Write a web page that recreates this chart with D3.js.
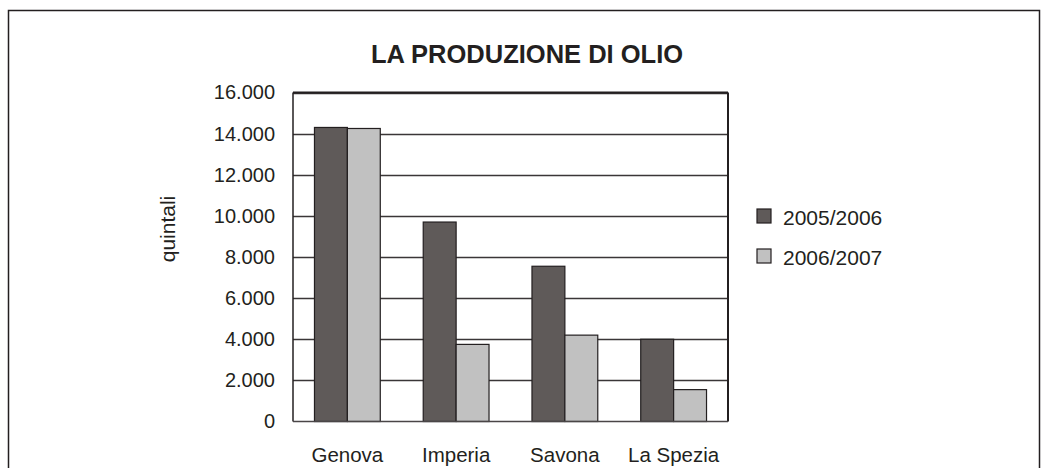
<!DOCTYPE html>
<html>
<head>
<meta charset="utf-8">
<script src="https://cdn.jsdelivr.net/npm/d3@7"></script>
<style>
  html, body { margin: 0; padding: 0; background: #fff; }
  svg text { font-family: "Liberation Sans", Arial, sans-serif; fill: #231f20; }
</style>
</head>
<body>
<svg id="chart" width="1047" height="468"></svg>
<script>
const categories = ["Genova", "Imperia", "Savona", "La Spezia"];
const seriesNames = ["2005/2006", "2006/2007"];
const values2005 = [14300, 9700, 7550, 4000];
const values2006 = [14250, 3750, 4200, 1550];
const yTicks = [0, 2000, 4000, 6000, 8000, 10000, 12000, 14000, 16000];
const title = "LA PRODUZIONE DI OLIO";
const yTitle = "quintali";
const colors = ["#5f5a59", "#c1c1c1"];

(function () {
const svg = d3.select("#chart");

// outer frame
svg.append("rect").attr("x", 8.5).attr("y", 10.5).attr("width", 1031).attr("height", 480)
  .attr("fill", "none").attr("stroke", "#231f20").attr("stroke-width", 1.5);

const pL = 293, pR = 728, pT = 92.5, pB = 421.5;

const y = d3.scaleLinear().domain([0, 16000]).range([pB, pT]);
const x0 = d3.scaleBand().domain(categories).range([pL, pR]).paddingInner(0).paddingOuter(0);
const groupW = x0.bandwidth() * 0.605;
const x1 = d3.scaleBand().domain(seriesNames).range([0, groupW]);

// gridlines
svg.append("g").selectAll("line").data(yTicks.filter(d => d > 0)).join("line")
  .attr("x1", pL).attr("x2", pR)
  .attr("y1", d => Math.round(y(d)) + 0.5).attr("y2", d => Math.round(y(d)) + 0.5)
  .attr("stroke", "#3a3637").attr("stroke-width", 1.3);

// plot border
svg.append("line").attr("x1", pL).attr("x2", pR).attr("y1", pT).attr("y2", pT)
  .attr("stroke", "#231f20").attr("stroke-width", 2);
svg.append("line").attr("x1", pL).attr("x2", pL).attr("y1", pT).attr("y2", pB)
  .attr("stroke", "#231f20").attr("stroke-width", 1.5);
svg.append("line").attr("x1", pR).attr("x2", pR).attr("y1", pT).attr("y2", pB)
  .attr("stroke", "#231f20").attr("stroke-width", 2);

// y axis labels via d3 axis
const yAxis = d3.axisLeft(y).tickValues(yTicks).tickSize(0).tickPadding(0)
  .tickFormat(d => d3.format(",")(d).replace(/,/g, "."));
const yg = svg.append("g").attr("transform", `translate(${275},0)`).call(yAxis);
yg.select(".domain").remove();
yg.selectAll("text").attr("font-size", 20).attr("font-family", "Liberation Sans, Arial, sans-serif").attr("fill", "#231f20");

// bars
const data = categories.map((c, i) => ({ cat: c, vals: [values2005[i], values2006[i]] }));
const groups = svg.append("g").selectAll("g").data(data).join("g")
  .attr("transform", d => `translate(${x0(d.cat) + (x0.bandwidth() - groupW) / 2},0)`);
groups.selectAll("rect").data(d => d.vals.map((v, j) => ({ v, s: seriesNames[j], j }))).join("rect")
  .attr("x", d => x1(d.s))
  .attr("y", d => y(d.v))
  .attr("width", x1.bandwidth())
  .attr("height", d => pB - y(d.v))
  .attr("fill", d => colors[d.j])
  .attr("stroke", "#231f20").attr("stroke-width", 1.2);

// bottom border (drawn over bars)
svg.append("line").attr("x1", pL).attr("x2", pR).attr("y1", pB).attr("y2", pB)
  .attr("stroke", "#4a4647").attr("stroke-width", 1.5);

// x axis labels
const xAxis = d3.axisBottom(x0).tickSize(0).tickPadding(0);
const xg = svg.append("g").attr("transform", `translate(0,${447})`).call(xAxis);
xg.select(".domain").remove();
xg.selectAll("text").attr("font-size", 20.5).attr("font-family", "Liberation Sans, Arial, sans-serif").attr("fill", "#231f20");

// title
svg.append("text").attr("x", 527).attr("y", 63).attr("text-anchor", "middle")
  .attr("font-size", 25.5).attr("font-weight", "bold").text(title);

// y title
svg.append("text").attr("transform", "translate(175,229) rotate(-90)")
  .attr("text-anchor", "middle").attr("font-size", 21).text(yTitle);

// legend
const legend = svg.append("g").selectAll("g").data(seriesNames).join("g")
  .attr("transform", (d, i) => `translate(757,${209 + i * 40})`);
legend.append("rect").attr("width", 14).attr("height", 14)
  .attr("fill", (d, i) => colors[i]).attr("stroke", "#231f20").attr("stroke-width", 1.2);
legend.append("text").attr("x", 26).attr("y", 15.5).attr("font-size", 21).text(d => d);
})();
</script>
</body>
</html>
